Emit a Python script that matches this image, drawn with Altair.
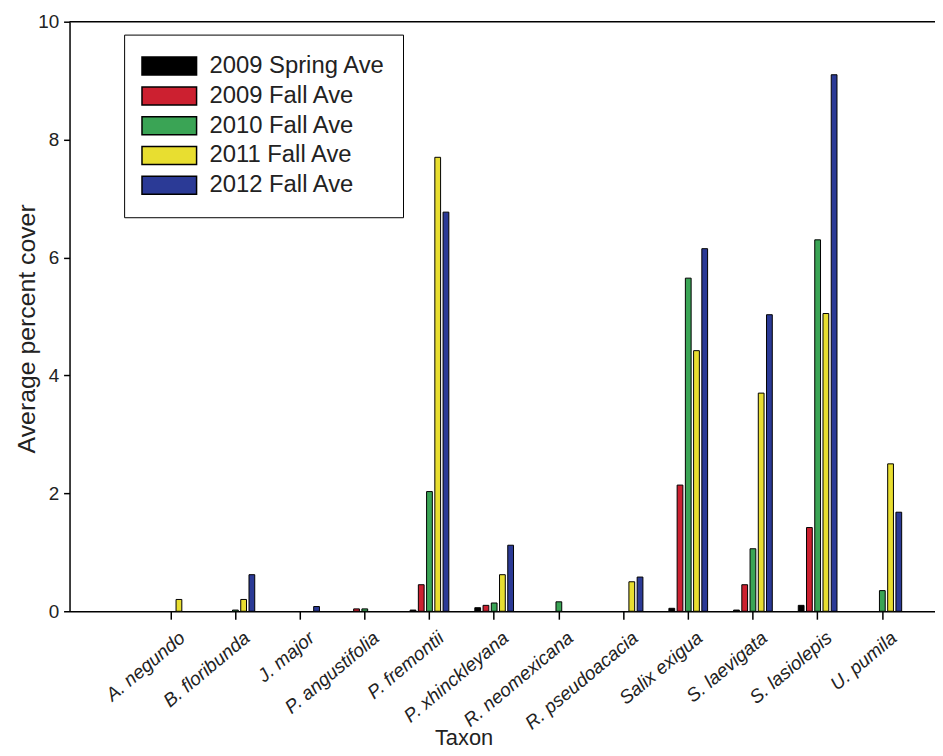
import altair as alt
import pandas as pd

taxa = ["A. negundo", "B. floribunda", "J. major", "P. angustifolia", "P. fremontii",
        "P. xhinckleyana", "R. neomexicana", "R. pseudoacacia", "Salix exigua",
        "S. laevigata", "S. lasiolepis", "U. pumila"]
series = ["2009 Spring Ave", "2009 Fall Ave", "2010 Fall Ave", "2011 Fall Ave", "2012 Fall Ave"]
colors = ["#000000", "#cc2030", "#3aa455", "#e8de30", "#2b3a96"]

spring_2009 = [0, 0, 0, 0, 0.02, 0.06, 0, 0, 0.05, 0.02, 0.10, 0]
fall_2009 = [0, 0, 0, 0.04, 0.45, 0.10, 0, 0, 2.14, 0.45, 1.42, 0]
fall_2010 = [0, 0.02, 0, 0.04, 2.03, 0.14, 0.16, 0, 5.65, 1.06, 6.30, 0.35]
fall_2011 = [0.20, 0.20, 0, 0, 7.70, 0.62, 0, 0.50, 4.42, 3.70, 5.05, 2.50]
fall_2012 = [0, 0.62, 0.08, 0, 6.77, 1.12, 0, 0.58, 6.15, 5.03, 9.10, 1.68]

values = [spring_2009, fall_2009, fall_2010, fall_2011, fall_2012]
rows = []
for s, vals in zip(series, values):
    for t, v in zip(taxa, vals):
        if v > 0:
            rows.append({"Taxon": t, "Series": s, "Value": v})
df = pd.DataFrame(rows)

FONT = "Liberation Sans"

bars = alt.Chart(df).mark_bar(stroke="black", strokeWidth=1).encode(
    x=alt.X("Taxon:N", sort=taxa,
            scale=alt.Scale(domain=taxa, paddingInner=0, paddingOuter=0.689, align=0.773),
            axis=alt.Axis(title="Taxon", labelAngle=-40, labelAlign="right",
                          labelBaseline="top", labelFontStyle="italic",
                          labelFontSize=19, labelFont=FONT, labelColor="#222",
                          labelPadding=9, labelOffset=6, tickSize=8, tickColor="black",
                          tickWidth=1.5, domainColor="black", domainWidth=1.5,
                          titleFont=FONT, titleFontSize=22, titleFontWeight="normal",
                          titleColor="#222", titleX=397, titleY=127,
                          titleBaseline="middle")),
    xOffset=alt.XOffset("Series:N", sort=series,
                        scale=alt.Scale(domain=series, paddingInner=0.3, paddingOuter=0,
                                        range=[13, 52])),
    y=alt.Y("Value:Q", scale=alt.Scale(domain=[0, 10], nice=False),
            axis=alt.Axis(title="Average percent cover", values=[0, 2, 4, 6, 8, 10],
                          format="d",
                          labelFontSize=19, labelFont=FONT, labelColor="#222",
                          labelPadding=5, tickSize=6, tickColor="black", tickWidth=1.5,
                          domainColor="black", domainWidth=1.5, grid=False,
                          titleFont=FONT, titleFontSize=25, titleFontWeight="normal",
                          titleColor="#222", titleX=-43, titleY=309,
                          titleBaseline="middle", titleAngle=-90, titleAlign="center")),
    color=alt.Color("Series:N", sort=series,
                    scale=alt.Scale(domain=series, range=colors),
                    legend=alt.Legend(title=None, orient="none", legendX=55, legendY=13,
                                      strokeColor="black", fillColor="white",
                                      padding=17, labelFontSize=24, labelFont=FONT,
                                      labelColor="#222", labelOffset=12, labelLimit=400,
                                      symbolType="M-1,-0.33H1V0.33H-1Z",
                                      symbolSize=3025, symbolStrokeColor="black",
                                      symbolStrokeWidth=1.5, clipHeight=29.5, rowPadding=0)),
)

top_line = alt.Chart(pd.DataFrame({"top": [10]})).mark_rule(color="black", strokeWidth=1.5).encode(
    y=alt.Y("top:Q")
)

chart = alt.layer(bars, top_line).properties(
    width=872, height=594, autosize="none",
    padding={"left": 62, "top": 11, "right": 0, "bottom": 138},
).configure_view(stroke=None)

chart.save("out.html", embed_options={"renderer": "svg", "actions": False})
